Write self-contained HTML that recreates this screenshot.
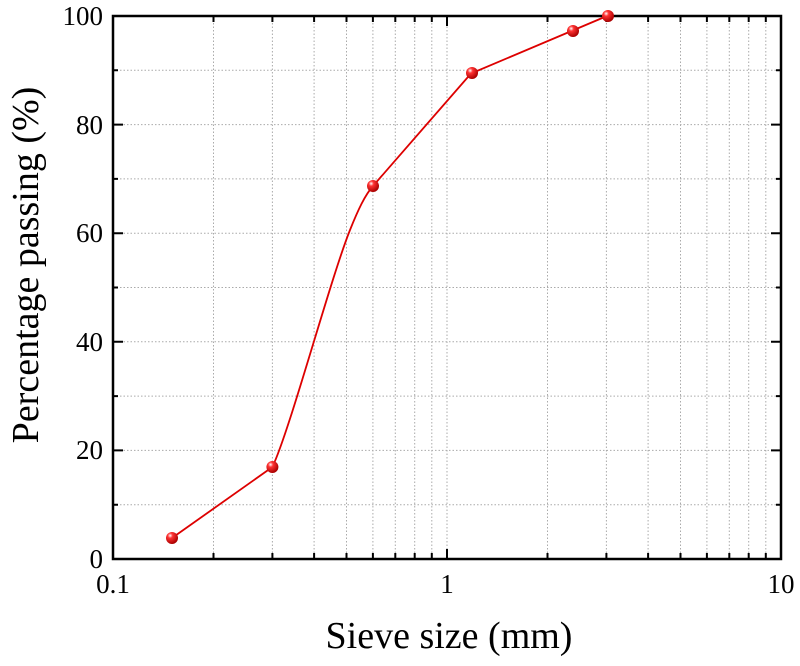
<!DOCTYPE html>
<html><head><style>body{margin:0;background:#fff}</style></head><body>
<svg width="800" height="661" xmlns="http://www.w3.org/2000/svg" font-family="Liberation Serif, serif">
<g stroke="#aaa" stroke-width="1" stroke-dasharray="1.5,2" fill="none">
<path d="M113,504.7H781M113,450.4H781M113,396.1H781M113,341.8H781M113,287.5H781M113,233.2H781M113,178.9H781M113,124.6H781M113,70.3H781"/>
<path d="M213.5,16V559M272.4,16V559M314.1,16V559M346.5,16V559M372.9,16V559M395.3,16V559M414.7,16V559M431.8,16V559M447,16V559M547.5,16V559M606.4,16V559M648.1,16V559M680.5,16V559M706.9,16V559M729.3,16V559M748.7,16V559M765.8,16V559"/>
</g>
<rect x="113" y="16" width="668" height="543" fill="none" stroke="#000" stroke-width="2.5"/>
<g stroke="#000" stroke-width="2" fill="none">
<path d="M113,504.7h5M113,396.1h5M113,287.5h5M113,178.9h5M113,70.3h5M781,504.7h-5M781,396.1h-5M781,287.5h-5M781,178.9h-5M781,70.3h-5"/>
<path d="M113,450.4h10M113,341.8h10M113,233.2h10M113,124.6h10M781,450.4h-10M781,341.8h-10M781,233.2h-10M781,124.6h-10"/>
<path d="M447,559v-10M447,16v10"/>
<path d="M213.5,559v-6M272.4,559v-6M314.1,559v-6M346.5,559v-6M372.9,559v-6M395.3,559v-6M414.7,559v-6M431.8,559v-6M547.5,559v-6M606.4,559v-6M648.1,559v-6M680.5,559v-6M706.9,559v-6M729.3,559v-6M748.7,559v-6M765.8,559v-6"/>
<path d="M213.5,16v6M272.4,16v6M314.1,16v6M346.5,16v6M372.9,16v6M395.3,16v6M414.7,16v6M431.8,16v6M547.5,16v6M606.4,16v6M648.1,16v6M680.5,16v6M706.9,16v6M729.3,16v6M748.7,16v6M765.8,16v6"/>
</g>
<g font-size="27" text-anchor="end">
<text x="103" y="568">0</text><text x="103" y="459">20</text><text x="103" y="351">40</text><text x="103" y="242">60</text><text x="103" y="134">80</text><text x="103" y="25">100</text>
</g>
<g font-size="27" text-anchor="middle">
<text x="113" y="593">0.1</text><text x="447" y="593">1</text><text x="781" y="593">10</text>
</g>
<text x="449" y="648" font-size="38" text-anchor="middle">Sieve size (mm)</text>
<text transform="translate(38,265) rotate(-90)" font-size="38" text-anchor="middle">Percentage passing (%)</text>
<defs><radialGradient id="g" cx="0.35" cy="0.3" r="0.7"><stop offset="0" stop-color="#fff"/><stop offset="0.3" stop-color="#f33"/><stop offset="1" stop-color="#a00"/></radialGradient></defs>
<path d="M172,538 L272.4,467 C290,430 330,280 350,230 C358,210 365,195 373,186 L471,73.5 L571.5,31 L607,16" fill="none" stroke="#d00" stroke-width="1.8"/>
<g fill="url(#g)">
<circle cx="172" cy="538" r="6"/><circle cx="272.4" cy="467" r="6"/><circle cx="373" cy="186" r="6"/><circle cx="472" cy="73" r="6"/><circle cx="573" cy="31" r="6"/><circle cx="608" cy="16" r="6"/>
</g>
</svg>
</body></html>
